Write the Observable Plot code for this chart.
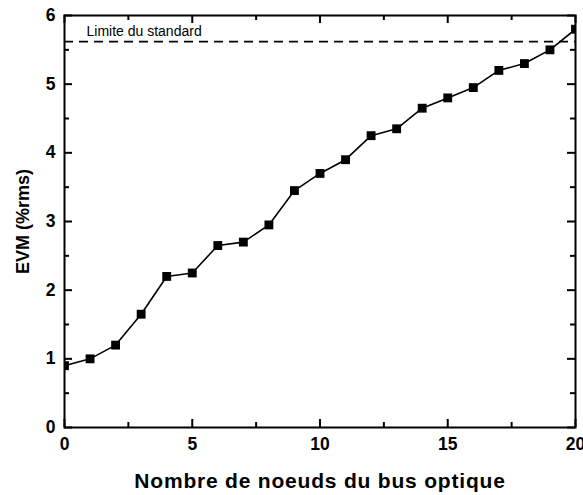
<!DOCTYPE html>
<html>
<head>
<meta charset="utf-8">
<script src="https://cdn.jsdelivr.net/npm/d3@7"></script>
<script src="https://cdn.jsdelivr.net/npm/@observablehq/plot@0.6"></script>
<style>
  html, body { margin: 0; padding: 0; background: #fff; }
</style>
</head>
<body>
<div id="chart"></div>
<script>
// ---- data ----
const nodes = [0, 1, 2, 3, 4, 5, 6, 7, 8, 9, 10, 11, 12, 13, 14, 15, 16, 17, 18, 19, 20];
const evm = [0.9, 1.0, 1.2, 1.65, 2.2, 2.25, 2.65, 2.7, 2.95, 3.45, 3.7, 3.9, 4.25, 4.35, 4.65, 4.8, 4.95, 5.2, 5.3, 5.5, 5.8];
const xMajor = [0, 5, 10, 15, 20];
const xMinor = [2.5, 7.5, 12.5, 17.5];
const yMajor = [0, 1, 2, 3, 4, 5, 6];
const yMinor = [0.5, 1.5, 2.5, 3.5, 4.5, 5.5];
const limit = [5.62];
const limitLabel = "Limite du standard";
const xLabel = "Nombre de noeuds du bus optique";
const yLabel = "EVM (%rms)";

const data = nodes.map((n, i) => ({n, v: evm[i]}));

// layout
const W = 583, H = 495, mL = 64, mR = 8, mT = 15, mB = 68;
const plotW = W - mL - mR, plotH = H - mT - mB;
const majorLen = 8, minorLen = 5;

const tickFont = {fontSize: 17.5, fontWeight: "bold", tickFormat: d => String(d)};
const tk = {stroke: "#000", strokeWidth: 2};

// inward tick rules on all four sides
function xTicks(values, len) {
  return [
    Plot.ruleX(values, {x: d => d, insetTop: plotH - len, ...tk}),
    Plot.ruleX(values, {x: d => d, insetBottom: plotH - len, ...tk})
  ];
}
function yTicks(values, len) {
  return [
    Plot.ruleY(values, {y: d => d, insetRight: plotW - len, ...tk}),
    Plot.ruleY(values, {y: d => d, insetLeft: plotW - len, ...tk})
  ];
}

const chart = Plot.plot({
  width: W,
  height: H,
  marginLeft: mL,
  marginRight: mR,
  marginTop: mT,
  marginBottom: mB,
  style: {fontFamily: "'Liberation Sans', Arial, sans-serif", background: "#fff", color: "#000"},
  x: {domain: [0, 20]},
  y: {domain: [0, 6]},
  marks: [
    Plot.ruleY(limit, {y: d => d, stroke: "#000", strokeWidth: 1.8, strokeDasharray: "9,6"}),
    Plot.text(limit, {y: d => d, frameAnchor: "left", dx: 22, dy: -6, text: () => limitLabel,
      textAnchor: "start", lineAnchor: "bottom", fontSize: 14, fill: "#000"}),
    Plot.line(data, {x: "n", y: "v", stroke: "#000", strokeWidth: 1.6, clip: "frame"}),
    Plot.dot(data, {x: "n", y: "v", symbol: "square", r: 5, fill: "#000", stroke: "none", clip: "frame"}),
    ...xTicks(xMajor, majorLen),
    ...xTicks(xMinor, minorLen),
    ...yTicks(yMajor, majorLen),
    ...yTicks(yMinor, minorLen),
    Plot.frame({stroke: "#000", strokeWidth: 2}),
    // tick labels
    Plot.axisX(xMajor, {anchor: "bottom", tickSize: 0, tickPadding: 10, label: null, fill: "#000", ...tickFont}),
    Plot.axisY(yMajor, {anchor: "left", tickSize: 0, tickPadding: 9, label: null, fill: "#000", ...tickFont}),
    // axis titles
    Plot.text([xLabel], {frameAnchor: "bottom", dy: 60, text: d => d, lineAnchor: "bottom",
      textAnchor: "middle", fontSize: 21, fontWeight: "bold", fill: "#000"}),
    Plot.text([yLabel], {frameAnchor: "left", dx: -36, rotate: -90, text: d => d, lineAnchor: "bottom",
      textAnchor: "middle", fontSize: 18, fontWeight: "bold", fill: "#000"})
  ]
});

d3.select(chart).selectAll("text").filter(function() { return this.textContent === xLabel; })
  .attr("letter-spacing", "0.8px");

document.getElementById("chart").appendChild(chart);
</script>
</body>
</html>
